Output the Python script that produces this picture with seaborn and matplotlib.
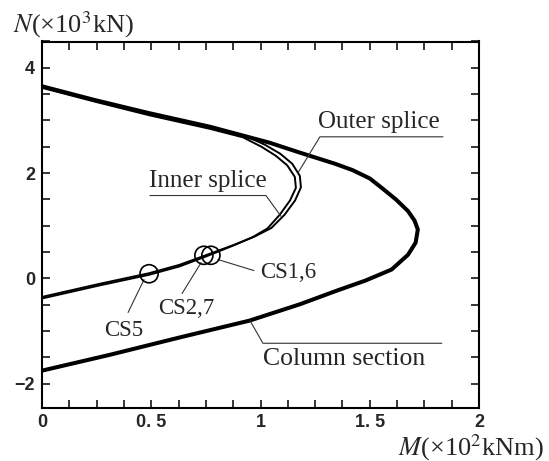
import seaborn as sns
import matplotlib.pyplot as plt
import pandas as pd
import numpy as np

# M-N interaction curves (M in x10^2 kNm, N in x10^3 kN)
col_M = [0, 0.31, 0.63, 0.95, 1.18, 1.35, 1.48, 1.60, 1.675, 1.71, 1.72,
         1.705, 1.675, 1.62, 1.555, 1.50, 1.42, 1.34, 1.18, 1.04, 0.77, 0.49, 0.24, 0]
col_N = [-1.75, -1.45, -1.12, -0.80, -0.49, -0.23, -0.04, 0.17, 0.45, 0.68, 0.93,
         1.10, 1.28, 1.50, 1.72, 1.90, 2.06, 2.18, 2.39, 2.58, 2.88, 3.14, 3.39, 3.65]

outer_M = [0, 0.265, 0.49, 0.63, 0.755, 0.88, 0.975, 1.05, 1.11, 1.158, 1.185,
           1.18, 1.145, 1.09, 1.02, 0.93, 0.77, 0.49, 0.24, 0]
outer_N = [-0.35, -0.10, 0.10, 0.26, 0.45, 0.64, 0.80, 0.96, 1.21, 1.48, 1.73,
           1.95, 2.18, 2.37, 2.54, 2.71, 2.86, 3.12, 3.38, 3.64]

inner_M = [0, 0.265, 0.49, 0.63, 0.752, 0.872, 0.962, 1.032, 1.088, 1.135, 1.162,
           1.157, 1.122, 1.07, 1.005, 0.92, 0.77, 0.49, 0.24, 0]
inner_N = [-0.38, -0.13, 0.07, 0.23, 0.42, 0.62, 0.78, 0.95, 1.21, 1.48, 1.72,
           1.93, 2.15, 2.33, 2.50, 2.68, 2.84, 3.10, 3.36, 3.62]

# test specimens
spec_names = ['CS5', 'CS2,7', 'CS1,6']
spec_M = [0.49, 0.741, 0.773]
spec_N = [0.09, 0.44, 0.44]

# labels: text, point on curve, knee, end of underline (None = no underline), text pos, alignment, size
labels = [
    ('Outer splice', (1.172, 2.01), (1.272, 2.69), (1.835, 2.69), (1.265, 2.86), 'left', 18),
    ('Inner splice', (1.094, 1.18), (1.025, 1.575), (0.494, 1.575), (1.03, 1.74), 'right', 18),
    ('Column section', (0.952, -0.80), (1.011, -1.23), (1.83, -1.23), (1.011, -1.65), 'left', 18.5),
    ('CS1,6', (0.805, 0.36), (0.970, 0.15), None, (0.998, 0.0), 'left', 16.5),
    ('CS2,7', (0.728, 0.30), (0.641, -0.285), None, (0.66, -0.68), 'center', 16.5),
    ('CS5', (0.467, -0.02), (0.394, -0.645), None, (0.375, -1.10), 'center', 16.5),
]

sns.set_theme(style='ticks')
plt.rcParams['font.family'] = ['Liberation Serif', 'DejaVu Serif']
plt.rcParams['mathtext.fontset'] = 'stix'

fig = plt.figure(figsize=(5.49, 4.61), dpi=100)
ax = fig.add_axes([42 / 549, 1 - 407.5 / 461, 437 / 549, 366 / 461])

curves = pd.concat([
    pd.DataFrame({'M': col_M, 'N': col_N, 'curve': 'col'}),
    pd.DataFrame({'M': outer_M, 'N': outer_N, 'curve': 'outer'}),
    pd.DataFrame({'M': inner_M, 'N': inner_N, 'curve': 'inner'}),
])
sns.lineplot(data=curves[curves.curve == 'col'], x='M', y='N', sort=False,
             estimator=None, color='black', lw=2.9, ax=ax)
for c in ['outer', 'inner']:
    sns.lineplot(data=curves[curves.curve == c], x='M', y='N', sort=False,
                 estimator=None, color='black', lw=1.4, ax=ax)

spec = pd.DataFrame({'M': spec_M, 'N': spec_N, 'name': spec_names})
sns.scatterplot(data=spec, x='M', y='N', s=170, facecolors='none',
                edgecolor='black', linewidth=1.2, ax=ax, zorder=5)

for text, p0, p1, p2, tp, ha, fs in labels:
    xs = [p0[0], p1[0]] + ([p2[0]] if p2 else [])
    ys = [p0[1], p1[1]] + ([p2[1]] if p2 else [])
    ax.plot(xs, ys, color='#333333', lw=0.8)
    ax.text(tp[0], tp[1], text, ha=ha, va='baseline', fontsize=fs)

ax.set_xlim(0, 2)
ax.set_ylim(-2.45, 4.5)
ax.set_xticks([0, 0.5, 1, 1.5, 2])
ax.set_xticklabels(['0', '0. 5', '1', '1. 5', '2'])
ax.set_xticks(np.arange(0, 2.01, 0.125), minor=True)
ax.set_yticks([-2, 0, 2, 4])
ax.set_yticks(np.arange(-2, 4.51, 0.5), minor=True)
ax.tick_params(which='both', direction='in', length=6, width=1.1, top=True, right=True,
               labelsize=13, pad=5, color='black')
for lab in ax.get_xticklabels() + ax.get_yticklabels():
    lab.set_family(['Liberation Sans Narrow', 'Liberation Sans', 'DejaVu Sans'])
    lab.set_fontweight('bold')
for s in ax.spines.values():
    s.set_linewidth(1.5)
    s.set_color('black')
ax.set_xlabel('')
ax.set_ylabel('')

fig.text(13 / 549, 1 - 32 / 461, r'$N$(×10$^3$kN)', fontsize=19, ha='left', va='baseline')
fig.text(544 / 549, 1 - 455 / 461, r'$M$(×10$^2$kNm)', fontsize=19, ha='right', va='baseline')

fig.savefig('out.png', dpi=100)
